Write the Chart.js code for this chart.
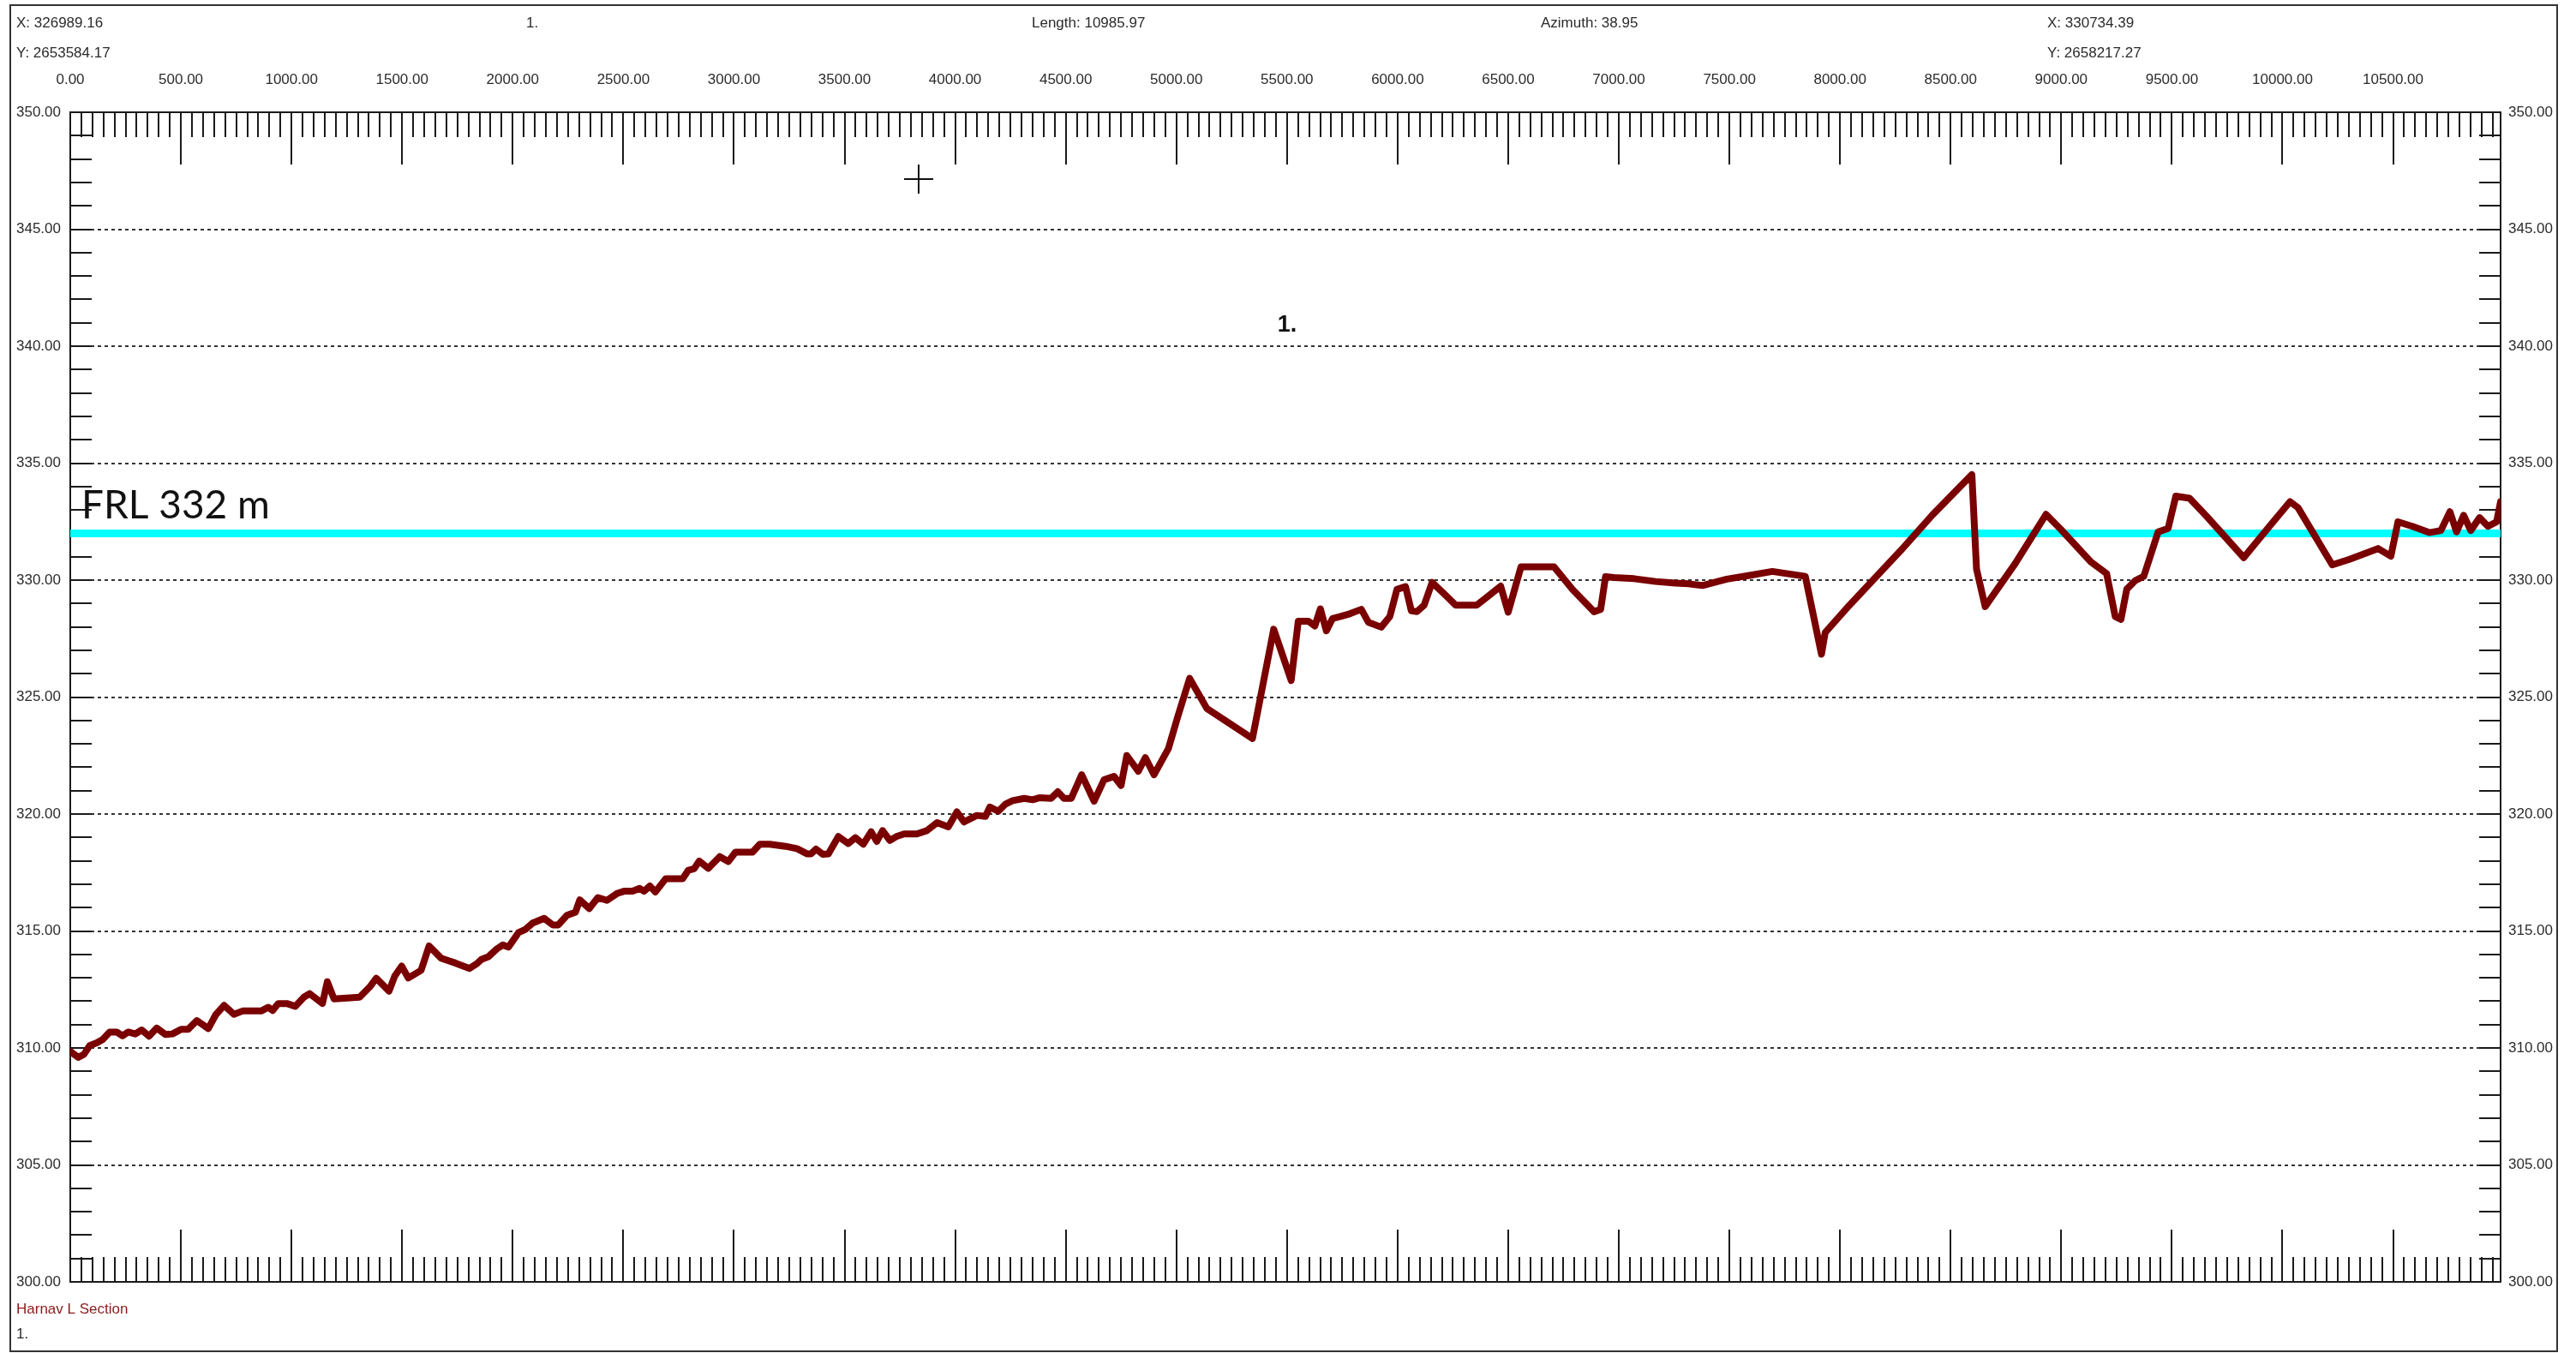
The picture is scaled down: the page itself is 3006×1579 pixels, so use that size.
<!DOCTYPE html>
<html>
<head>
<meta charset="utf-8">
<title>Harnav L Section</title>
<script src="https://cdn.jsdelivr.net/npm/chart.js@4.4.1/dist/chart.umd.min.js"></script>
<style>
    html, body { margin: 0; padding: 0; background: #fff; }
    #wrap { position: relative; width: 3006px; height: 1579px; }
</style>
</head>
<body>
<div id="wrap"><canvas id="profile"></canvas></div>
<script>
const LENGTH = 10985.97;
const FRL = 332;

const DIST = [
    0, 36, 62, 88, 120, 146, 178, 210, 236, 262, 294, 323, 356, 391, 430, 462, 501, 533, 572, 624,
    657, 695, 740, 779, 863, 895, 915, 940, 979, 1017, 1056, 1082, 1140, 1162, 1192, 1308, 1353, 1383, 1441, 1467,
    1498, 1528, 1586, 1622, 1676, 1741, 1805, 1838, 1858, 1890, 1929, 1955, 1981, 2026, 2058, 2090, 2142, 2181, 2206, 2245,
    2284, 2303, 2346, 2385, 2426, 2471, 2503, 2542, 2574, 2594, 2620, 2645, 2691, 2768, 2794, 2820, 2843, 2884, 2936, 2975,
    3007, 3084, 3117, 3162, 3233, 3285, 3330, 3349, 3371, 3401, 3427, 3472, 3517, 3549, 3585, 3620, 3646, 3672, 3705, 3737,
    3769, 3827, 3872, 3918, 3969, 4008, 4040, 4098, 4137, 4157, 4195, 4228, 4260, 4312, 4350, 4383, 4434, 4464, 4492, 4525,
    4572, 4628, 4673, 4718, 4750, 4776, 4828, 4860, 4899, 4964, 5006, 5060, 5138, 5344, 5440, 5519, 5551, 5597, 5626, 5651,
    5678, 5706, 5739, 5784, 5836, 5868, 5926, 5965, 5997, 6036, 6062, 6087, 6120, 6156, 6216, 6262, 6358, 6404, 6466, 6500,
    6558, 6707, 6791, 6888, 6918, 6940, 6978, 7069, 7166, 7256, 7314, 7378, 7488, 7591, 7694, 7843, 7916, 7933, 8043, 8275,
    8417, 8596, 8617, 8656, 8792, 8931, 8998, 9134, 9205, 9244, 9270, 9296, 9335, 9373, 9438, 9483, 9518, 9580, 9657, 9825,
    9941, 10034, 10070, 10225, 10303, 10432, 10490, 10522, 10587, 10664, 10716, 10757, 10787, 10819, 10851, 10891, 10929, 10968, 10985.97
];
const ELEV = [
    309.85, 309.6, 309.73, 310.1, 310.22, 310.36, 310.68, 310.68, 310.52, 310.68, 310.6, 310.77, 310.5, 310.85, 310.58, 310.6, 310.8, 310.8, 311.17, 310.83,
    311.41, 311.82, 311.44, 311.58, 311.58, 311.74, 311.6, 311.9, 311.9, 311.78, 312.17, 312.32, 311.9, 312.83, 312.1, 312.17, 312.6, 312.98, 312.43, 313.08,
    313.5, 312.99, 313.32, 314.36, 313.84, 313.63, 313.4, 313.6, 313.78, 313.9, 314.24, 314.4, 314.31, 314.93, 315.07, 315.34, 315.54, 315.26, 315.26, 315.67,
    315.81, 316.33, 315.96, 316.43, 316.31, 316.6, 316.7, 316.7, 316.82, 316.7, 316.92, 316.67, 317.23, 317.23, 317.6, 317.66, 317.99, 317.68, 318.18, 317.97,
    318.37, 318.37, 318.71, 318.71, 318.62, 318.52, 318.3, 318.3, 318.5, 318.28, 318.3, 319.04, 318.74, 318.99, 318.71, 319.24, 318.83, 319.29, 318.87, 319.05,
    319.15, 319.15, 319.29, 319.63, 319.45, 320.09, 319.66, 319.94, 319.9, 320.3, 320.12, 320.43, 320.57, 320.67, 320.61, 320.7, 320.67, 320.95, 320.67, 320.67,
    321.68, 320.55, 321.46, 321.61, 321.22, 322.5, 321.83, 322.41, 321.68, 322.8, 324.15, 325.8, 324.51, 323.23, 327.9, 325.71, 328.24, 328.24, 328.04, 328.77,
    327.83, 328.36, 328.44, 328.56, 328.75, 328.2, 327.99, 328.44, 329.6, 329.72, 328.69, 328.65, 328.93, 329.9, 329.36, 328.93, 328.93, 329.27, 329.74, 328.63,
    330.57, 330.57, 329.6, 328.65, 328.75, 330.15, 330.11, 330.06, 329.94, 329.87, 329.84, 329.77, 330.04, 330.2, 330.37, 330.16, 326.83, 327.76, 328.93, 331.27,
    332.78, 334.51, 330.47, 328.87, 330.71, 332.81, 332.17, 330.78, 330.28, 328.44, 328.32, 329.61, 329.98, 330.16, 332.06, 332.21, 333.59, 333.5, 332.73, 330.96,
    332.3, 333.35, 333.1, 330.65, 330.89, 331.35, 331.02, 332.49, 332.3, 332.03, 332.12, 332.92, 332.06, 332.77, 332.12, 332.67, 332.3, 332.49, 333.35
];

const X_TICKS = [0, 500, 1000, 1500, 2000, 2500, 3000, 3500, 4000, 4500, 5000, 5500, 6000, 6500, 7000, 7500, 8000, 8500, 9000, 9500, 10000, 10500];
const Y_TICKS = [300, 305, 310, 315, 320, 325, 330, 335, 340, 345, 350];

const HEADER_LEFT = ['X: 326989.16', 'Y: 2653584.17'];
const HEADER_RIGHT = ['X: 330734.39', 'Y: 2658217.27'];
const SECTION_NAME = '1.';
const LENGTH_TEXT = 'Length: 10985.97';
const AZIMUTH_TEXT = 'Azimuth: 38.95';
const FOOTER = ['Harnav L Section', '1.'];
const FRL_TEXT = 'FRL 332 m';

const TEXT = '#2b2b2b';
const SMALL_FONT = '17px "Liberation Sans", Arial, sans-serif';

const sectionFrame = {
    id: 'sectionFrame',
    beforeDatasetsDraw(chart) {
        const { ctx, chartArea: a, scales: { x, y } } = chart;

        ctx.save();
        ctx.strokeStyle = '#1a1a1a';
        ctx.lineWidth = 2;
        ctx.beginPath();

        // chainage ticks every 50 m, longer every 500 m, top and bottom
        for (let d = 0; d < LENGTH; d += 50) {
            const px = Math.round(x.getPixelForValue(d));
            const len = d % 500 === 0 ? 61 : 29;
            ctx.moveTo(px, a.top);
            ctx.lineTo(px, a.top + len);
            ctx.moveTo(px, a.bottom);
            ctx.lineTo(px, a.bottom - len);
        }

        // level ticks every metre, both sides
        for (let v = 301; v < 350; v += 1) {
            const py = Math.round(y.getPixelForValue(v));
            ctx.moveTo(a.left, py);
            ctx.lineTo(a.left + 25, py);
            ctx.moveTo(a.right, py);
            ctx.lineTo(a.right - 25, py);
        }
        ctx.stroke();

        ctx.strokeRect(a.left, a.top, a.right - a.left, a.bottom - a.top);
        ctx.restore();
    },
    afterDraw(chart) {
        const { ctx, chartArea: a, scales: { y } } = chart;

        ctx.save();
        ctx.fillStyle = TEXT;
        ctx.font = SMALL_FONT;
        ctx.textBaseline = 'middle';
        ctx.textAlign = 'left';

        ctx.fillText(HEADER_LEFT[0], 19, 27);
        ctx.fillText(HEADER_LEFT[1], 19, 62);
        ctx.fillText(SECTION_NAME, 614, 27);
        ctx.fillText(LENGTH_TEXT, 1204, 27);
        ctx.fillText(AZIMUTH_TEXT, 1798, 27);
        ctx.fillText(HEADER_RIGHT[0], 2389, 27);
        ctx.fillText(HEADER_RIGHT[1], 2389, 62);

        ctx.fillStyle = '#8b1a1a';
        ctx.fillText(FOOTER[0], 19, 1528);
        ctx.fillStyle = TEXT;
        ctx.fillText(FOOTER[1], 19, 1557);

        // section number inside the plot
        ctx.font = 'bold 27px "Liberation Sans", Arial, sans-serif';
        ctx.fillStyle = '#111';
        ctx.textAlign = 'center';
        ctx.fillText(SECTION_NAME, 1502, 380);

        // FRL label sits just above the cyan line
        ctx.font = '46px Lato, "Open Sans", sans-serif';
        ctx.textAlign = 'left';
        ctx.textBaseline = 'alphabetic';
        ctx.fillText(FRL_TEXT, a.left + 13, y.getPixelForValue(FRL) - 17);

        // cursor cross left on the screenshot
        ctx.strokeStyle = '#111';
        ctx.lineWidth = 2;
        ctx.beginPath();
        ctx.moveTo(1055, 209);
        ctx.lineTo(1089, 209);
        ctx.moveTo(1072, 192);
        ctx.lineTo(1072, 226);
        ctx.stroke();

        // outer window frame
        ctx.strokeStyle = '#333';
        ctx.strokeRect(12, 6, 2972, 1571);
        ctx.restore();
    }
};

const profile = DIST.map((d, i) => ({ x: d, y: ELEV[i] }));
const frlLine = [{ x: 0, y: FRL }, { x: LENGTH, y: FRL }];

const fmt = (v) => Number(v).toFixed(2);

new Chart(document.getElementById('profile'), {
    type: 'line',
    data: {
        datasets: [
            {
                label: 'Ground',
                data: profile,
                borderColor: '#7a0000',
                borderWidth: 8,
                borderJoinStyle: 'round',
                borderCapStyle: 'round',
                pointRadius: 0,
                tension: 0,
                order: 0,
            },
            {
                label: 'FRL',
                data: frlLine,
                borderColor: '#00ffff',
                borderWidth: 9,
                borderCapStyle: 'round',
                pointRadius: 0,
                order: 1,
            },
        ],
    },
    options: {
        responsive: true,
        maintainAspectRatio: false,
        devicePixelRatio: 1,
        animation: false,
        layout: { padding: { top: 0, left: 0, right: 0, bottom: 83 } },
        plugins: {
            legend: { display: false },
            tooltip: { enabled: false },
        },
        scales: {
            x: {
                type: 'linear',
                position: 'top',
                min: 0,
                max: LENGTH,
                afterBuildTicks: (scale) => { scale.ticks = X_TICKS.map((v) => ({ value: v })); },
                afterFit: (scale) => { scale.height = 131; },
                grid: { display: false, drawTicks: false },
                border: { display: false },
                ticks: {
                    autoSkip: false,
                    maxRotation: 0,
                    minRotation: 0,
                    padding: 27,
                    color: TEXT,
                    font: { family: '"Liberation Sans", Arial, sans-serif', size: 17 },
                    callback: fmt,
                },
            },
            y: {
                position: 'left',
                min: 300,
                max: 350,
                afterBuildTicks: (scale) => { scale.ticks = Y_TICKS.map((v) => ({ value: v })); },
                afterFit: (scale) => { scale.width = 82; },
                grid: {
                    drawTicks: false,
                    lineWidth: 2,
                    color: (c) => (c.tick && (c.tick.value === 300 || c.tick.value === 350) ? 'rgba(0,0,0,0)' : '#333'),
                },
                border: { display: false, dash: [4, 4] },
                ticks: {
                    padding: 11,
                    color: TEXT,
                    font: { family: '"Liberation Sans", Arial, sans-serif', size: 17 },
                    callback: fmt,
                },
            },
            y2: {
                position: 'right',
                min: 300,
                max: 350,
                afterBuildTicks: (scale) => { scale.ticks = Y_TICKS.map((v) => ({ value: v })); },
                afterFit: (scale) => { scale.width = 88; },
                grid: { display: false, drawTicks: false },
                border: { display: false },
                ticks: {
                    padding: 9,
                    color: TEXT,
                    font: { family: '"Liberation Sans", Arial, sans-serif', size: 17 },
                    callback: fmt,
                },
            },
        },
    },
    plugins: [sectionFrame],
});
</script>
</body>
</html>
